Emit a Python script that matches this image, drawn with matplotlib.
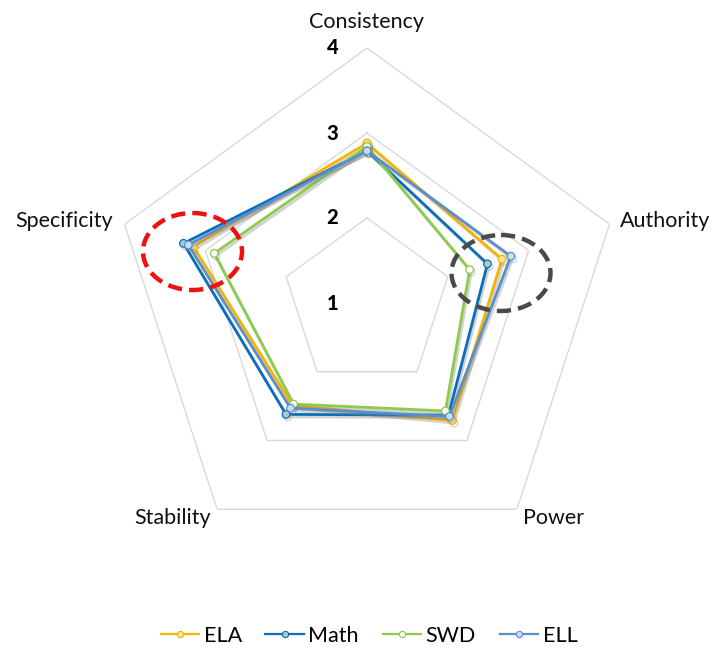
import numpy as np
import matplotlib
matplotlib.use("Agg")
import matplotlib.pyplot as plt
from matplotlib.patches import Ellipse
from matplotlib.lines import Line2D
import matplotlib.patheffects as pe

plt.rcParams['font.family'] = ['Lato', 'DejaVu Sans']

categories = ["Consistency", "Authority", "Power", "Stability", "Specificity"]
series_names = ["ELA", "Math", "SWD", "ELL"]
ela = [2.88, 2.67, 2.71, 2.49, 3.15]
math_ = [2.79, 2.49, 2.63, 2.62, 3.27]
swd = [2.84, 2.27, 2.57, 2.47, 2.89]
ell = [2.79, 2.78, 2.65, 2.53, 3.21]
series_values = [ela, math_, swd, ell]
tick_values = [1, 2, 3, 4]

line_colors = ["#F5B400", "#0A6EBD", "#8CCB4E", "#5B8FC9"]
marker_faces = ["#FBE3A0", "#A9CCC4", "#FFFFFF", "#C9DCF2"]

W, H = 715, 650
fig = plt.figure(figsize=(W / 100, H / 100), dpi=100)

cx, cy, R = 367, 303, 255
ax = fig.add_axes([(cx - R) / W, (H - cy - R) / H, 2 * R / W, 2 * R / H],
                  projection='polar')
ax.set_theta_offset(np.pi / 2)
ax.set_theta_direction(-1)
ax.set_ylim(1, 4)
ax.grid(False)
ax.spines['polar'].set_visible(False)
ax.set_xticks([])
ax.set_yticks([])
ax.patch.set_alpha(0)

n = len(categories)
angles = np.linspace(0, 2 * np.pi, n, endpoint=False)
closed = np.concatenate([angles, angles[:1]])

# pentagon grid
for lv in tick_values[1:]:
    ax.plot(closed, [lv] * (n + 1), color="#D9D9D9", lw=1.0, zorder=1)

# tick labels along top axis
for lv in tick_values:
    ax.annotate(str(lv), xy=(0, lv), xytext=(-25, 0), textcoords='offset points',
                ha='center', va='center', fontsize=14.5, fontweight='black',
                color='#000000', annotation_clip=False)

# category labels
label_r = [4.31, 4.13, 4.13, 4.13, 4.14]
has = ['center', 'left', 'left', 'right', 'right']
for a, lab, r, h in zip(angles, categories, label_r, has):
    ax.text(a, r, lab, ha=h, va='center', fontsize=15.5, color='#111111',
            clip_on=False)

shadow = [pe.SimpleLineShadow(offset=(1.2, -1.8), shadow_color='#7f7f7f', alpha=0.35),
          pe.Normal()]
for name, vals, lc, mf in zip(series_names, series_values, line_colors, marker_faces):
    v = list(vals) + [vals[0]]
    ax.plot(closed, v, color=lc, lw=2.0, marker='o', markersize=5.5,
            markerfacecolor=mf, markeredgecolor=lc, markeredgewidth=0.9,
            label=name, path_effects=shadow, zorder=3, clip_on=False)

handles = [Line2D([], [], color=lc, lw=1.6, marker='o', markersize=4.5,
                  markerfacecolor=mf, markeredgecolor=lc, markeredgewidth=0.8)
           for lc, mf in zip(line_colors, marker_faces)]
leg = fig.legend(handles, series_names, loc='center',
                 bbox_to_anchor=(369 / W, 1 - 636 / H), ncol=4, frameon=False,
                 fontsize=15.5, handlelength=1.8, columnspacing=1.1,
                 handletextpad=0.2)

# annotation ellipses (pixel overlay)
ov = fig.add_axes([0, 0, 1, 1], zorder=10)
ov.set_xlim(0, W)
ov.set_ylim(H, 0)
ov.axis('off')
ov.patch.set_alpha(0)
ov.add_patch(Ellipse((192.5, 251.5), 99, 77, fill=False, edgecolor='#EE1111',
                     lw=3.2, linestyle=(0, (3.2, 1.6))))
ov.add_patch(Ellipse((501, 273), 99, 76, fill=False, edgecolor='#4A4A4A',
                     lw=3.2, linestyle=(0, (3.2, 1.6))))

fig.savefig("out.png", dpi=100)
